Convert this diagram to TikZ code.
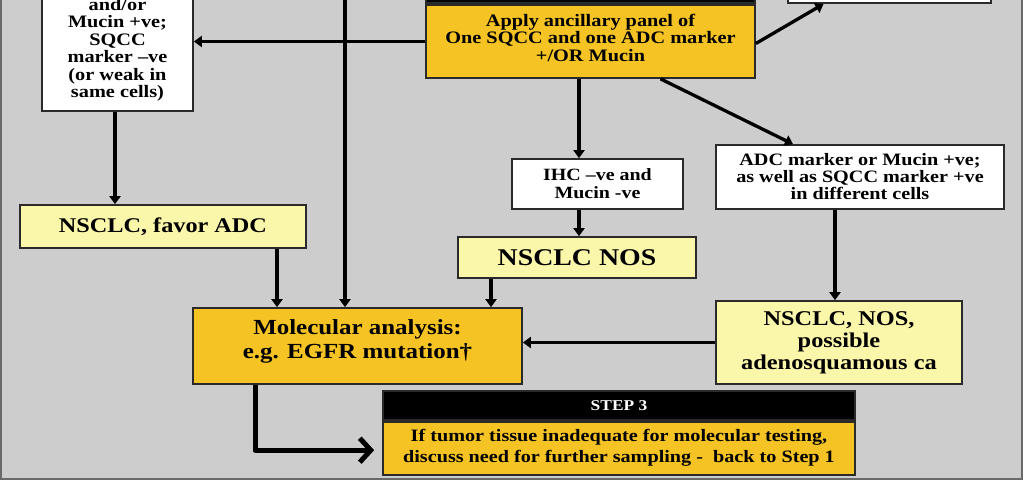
\documentclass[tikz,border=0pt]{standalone}
\usepackage{fontspec}
\setmainfont[FakeStretch=1.16]{Liberation Serif}
\usetikzlibrary{arrows.meta}
\definecolor{bggray}{HTML}{CDCDCD}
\definecolor{framegray}{HTML}{6A6A6A}
\definecolor{boxgold}{HTML}{F5C323}
\definecolor{boxpale}{HTML}{FAF6AA}
\definecolor{boxline}{HTML}{2A2A2A}
\tikzset{
  box/.style={thick, shape=rectangle, draw=boxline, line width=1.7pt, align=center, inner sep=0pt, font=\bfseries},
  whitebox/.style={box, fill=white},
  palebox/.style={box, fill=boxpale},
  goldbox/.style={box, fill=boxgold},
  headbar/.style={box, fill=black, text=white},
  arr/.style={line width=3.3pt, -{Triangle[length=8pt,width=11pt]}},
  bigarr/.style={line width=5pt, line join=round, -{Straight Barb[length=11pt,width=24pt,line width=5pt]}}
}
\begin{document}
\begin{tikzpicture}[x=1pt, y=-1pt]
\useasboundingbox (0,0) rectangle (1024,481);
\clip (0,0) rectangle (1024,481);
\draw[fill=bggray, draw=framegray, line width=1.5pt] (1,-10) rectangle (1022,479);

% boxes
\node[whitebox, anchor=south, minimum width=151pt, inner ysep=10pt, font=\bfseries\fontsize{17.5}{17.4}\selectfont](adcwhite) at (117.5,112) {and/or\\Mucin +ve;\\SQCC\\marker --ve\\(or weak in\\same cells)};
\node[goldbox, minimum width=329pt, minimum height=73pt, font=\bfseries\fontsize{17.5}{17.5}\selectfont](panel) at (590.5,41.5) {Apply ancillary panel of\\One SQCC and one ADC marker\\+/OR Mucin\\[-9.5pt]};
\node[headbar, anchor=south, minimum width=329pt, minimum height=30pt](panelhead) at (panel.north) {};
\node[whitebox, anchor=south, minimum width=203pt, minimum height=40pt](topbox) at (889.5,4) {};
\node[whitebox, minimum width=171pt, minimum height=50pt, font=\bfseries\fontsize{17.2}{18}\selectfont](ihcneg) at (597.5,184) {IHC --ve and\\Mucin -ve};
\node[whitebox, minimum width=288pt, minimum height=64pt, font=\bfseries\fontsize{17.4}{17}\selectfont](adcmix) at (860,177) {ADC marker or Mucin +ve;\\as well as SQCC marker +ve\\in different cells};
\node[palebox, minimum width=286pt, minimum height=43pt, font=\bfseries\fontsize{20.9}{22}\selectfont](favadc) at (163,226.5) {NSCLC, favor ADC};
\node[palebox, minimum width=238pt, minimum height=41pt, font=\bfseries\fontsize{24}{24}\selectfont](nos) at (577,257.5) {NSCLC NOS};
\node[palebox, minimum width=246pt, minimum height=83pt, font=\bfseries\fontsize{21}{22}\selectfont](adeno) at (839,342.5) {NSCLC, NOS,\\possible\\adenosquamous ca};
\node[goldbox, minimum width=329pt, minimum height=76pt, font=\bfseries\fontsize{21.5}{24}\selectfont](molec) at (357.5,346) {Molecular analysis:\\e.g. EGFR mutation\dag\\[-11pt]};
\node[headbar, minimum width=472pt, minimum height=29pt, font=\bfseries\fontsize{15}{15}\selectfont](stephead) at (619,405.5) {STEP 3};
\node[goldbox, anchor=north, minimum width=472pt, minimum height=53pt, font=\bfseries\fontsize{17.4}{21}\selectfont](step) at (stephead.south) {If tumor tissue inadequate for molecular testing,\\discuss need for further sampling -\ \ back to Step 1};
\coordinate (fromtop) at (345,-5);

% connectors
\draw[arr] (panel.west) -- (panel.west -| adcwhite.east);
\draw[arr] ([xshift=-2.5pt]adcwhite.south) -- ([xshift=-2.5pt]adcwhite.south |- favadc.north);
\draw[arr] ([xshift=114pt]favadc.south) -- ([xshift=114pt]favadc.south |- molec.north);
\draw[arr] (fromtop) -- (fromtop |- molec.north);
\draw[arr] ([xshift=-86pt]nos.south) -- ([xshift=-86pt]nos.south |- molec.north);
\draw[arr] ([xshift=-18.5pt]ihcneg.north |- panel.south) -- ([xshift=-18.5pt]ihcneg.north);
\draw[arr] ([xshift=-18.5pt]ihcneg.south) -- ([xshift=-18.5pt]ihcneg.south |- nos.north);
\draw[arr] ([xshift=70pt]panel.south) -- ([xshift=-67pt]adcmix.north);
\draw[arr] ([yshift=-2pt]panel.east) -- ([xshift=-66pt]topbox.south);
\draw[arr] ([xshift=-4pt]adeno.north |- adcmix.south) -- ([xshift=-4pt]adeno.north);
\draw[arr] (adeno.west) -- (adeno.west -| molec.east);
\draw[bigarr] ([xshift=-102.5pt]molec.south) |- ([xshift=-8pt,yshift=-2pt]step.west);
\end{tikzpicture}
\end{document}
